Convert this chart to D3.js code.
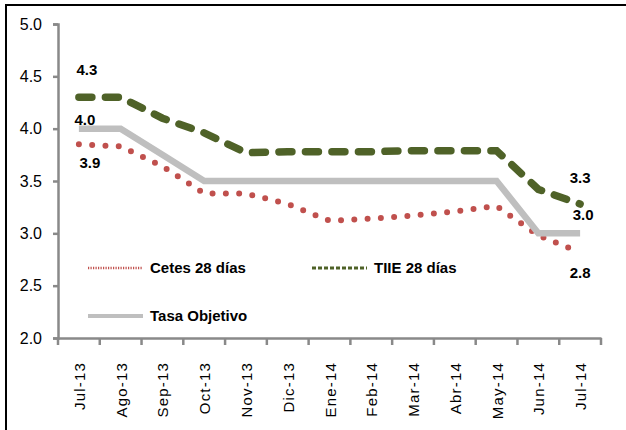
<!DOCTYPE html>
<html><head><meta charset="utf-8">
<script src="https://cdn.jsdelivr.net/npm/d3@7/dist/d3.min.js"></script>
<style>
html,body{margin:0;padding:0;background:#fff;}
svg{display:block;font-family:"Liberation Sans",Arial,sans-serif;}
</style></head><body>
<svg id="c" width="626" height="430"></svg>
<script>
const months = ["Jul-13","Ago-13","Sep-13","Oct-13","Nov-13","Dic-13","Ene-14","Feb-14","Mar-14","Abr-14","May-14","Jun-14","Jul-14"];
const cetes = [3.85,3.83,3.64,3.38,3.38,3.28,3.12,3.14,3.17,3.21,3.26,2.98,2.82];
const tiie  = [4.30,4.30,4.10,3.96,3.77,3.78,3.78,3.78,3.79,3.79,3.79,3.42,3.28];
const tasa  = [4.00,4.00,3.75,3.50,3.50,3.50,3.50,3.50,3.50,3.50,3.50,3.00,3.00];
const yTicks = [2.0,2.5,3.0,3.5,4.0,4.5,5.0];

const svg = d3.select("#c");
// outer frame
svg.append("rect").attr("x",6).attr("y",5).attr("width",700).attr("height",500)
  .attr("fill","none").attr("stroke","#000").attr("stroke-width",2);

const x = d3.scaleBand().domain(months).range([58,601]).padding(0);
const y = d3.scaleLinear().domain([2,5]).range([338,24]);
const cx = m => x(m) + x.bandwidth()/2;
const axisColor = "#898989";

// y axis
const ya = svg.append("g").attr("transform","translate(58,0)")
  .call(d3.axisLeft(y).tickValues(yTicks).tickFormat(d3.format(".1f")).tickSize(5).tickPadding(11));
ya.select(".domain").attr("stroke",axisColor).attr("stroke-width",2.5);
ya.selectAll(".tick line").attr("stroke",axisColor).attr("stroke-width",2.5);
ya.selectAll(".tick text").attr("fill","#000").attr("font-size",16).attr("font-family","Liberation Sans, Arial, sans-serif");

// x axis
const xa = svg.append("g").attr("transform","translate(0,338)")
  .call(d3.axisBottom(x).tickSize(0).tickFormat(""));
xa.select(".domain").attr("stroke",axisColor).attr("stroke-width",2.5);
const bounds = months.map(m => x(m)).concat([x(months[months.length-1]) + x.bandwidth()]);
svg.append("g").selectAll("line").data(bounds).join("line")
  .attr("x1",d=>d).attr("x2",d=>d).attr("y1",338).attr("y2",345)
  .attr("stroke",axisColor).attr("stroke-width",2.5);
svg.append("g").selectAll("text").data(months).join("text")
  .attr("transform",d=>`translate(${cx(d)+6},362) rotate(-90)`)
  .attr("text-anchor","end").attr("font-size",15).attr("letter-spacing",1.2)
  .attr("fill","#000").text(d=>d);

const line = d3.line().x((d,i)=>cx(months[i])).y(d=>y(d));

svg.append("path").attr("d",line(cetes)).attr("fill","none")
  .attr("stroke","#C0504D").attr("stroke-width",6).attr("stroke-linecap","round")
  .attr("stroke-dasharray","0 13.3");
svg.append("path").attr("d",line(tiie)).attr("fill","none")
  .attr("stroke","#4F6228").attr("stroke-width",7.5).attr("stroke-linecap","round")
  .attr("stroke-dasharray","13 13.5");
svg.append("path").attr("d",line(tasa)).attr("fill","none")
  .attr("stroke","#BFBFBF").attr("stroke-width",6.5).attr("stroke-linejoin","miter");

// data labels
const n = months.length-1;
const labels = [
  {t:d3.format(".1f")(tiie[0]), x:cx(months[0])+8, y:y(tiie[0])-22},
  {t:d3.format(".1f")(tasa[0]), x:cx(months[0])+6, y:y(tasa[0])-3.5},
  {t:d3.format(".1f")(cetes[0]), x:cx(months[0])+11, y:y(cetes[0])+24},
  {t:d3.format(".1f")(tiie[n]), x:cx(months[n]), y:y(tiie[n])-21},
  {t:d3.format(".1f")(tasa[n]), x:cx(months[n])+3, y:y(tasa[n])-13},
  {t:d3.format(".1f")(cetes[n]), x:cx(months[n]), y:y(cetes[n])+26}
];
svg.append("g").selectAll("text").data(labels).join("text")
  .attr("x",d=>d.x).attr("y",d=>d.y).attr("text-anchor","middle")
  .attr("font-size",15).attr("font-weight","bold").attr("fill","#000").text(d=>d.t);

// legend
const leg = [
  {name:"Cetes 28 días", x:88, y:268, color:"#C0504D", w:2.5, dash:"1.2 1.3"},
  {name:"TIIE 28 días", x:312, y:268, color:"#4F6228", w:3, dash:"4 2"},
  {name:"Tasa Objetivo", x:88, y:316, color:"#BFBFBF", w:4, dash:null}
];
const lg = svg.append("g").selectAll("g").data(leg).join("g");
lg.append("line").attr("x1",d=>d.x).attr("x2",d=>d.x+55).attr("y1",d=>d.y).attr("y2",d=>d.y)
  .attr("stroke",d=>d.color).attr("stroke-width",d=>d.w).attr("stroke-dasharray",d=>d.dash);
lg.append("text").attr("x",d=>d.x+62).attr("y",d=>d.y+5).attr("font-size",15)
  .attr("font-weight","bold").attr("fill","#000").text(d=>d.name);
</script>
</body></html>
